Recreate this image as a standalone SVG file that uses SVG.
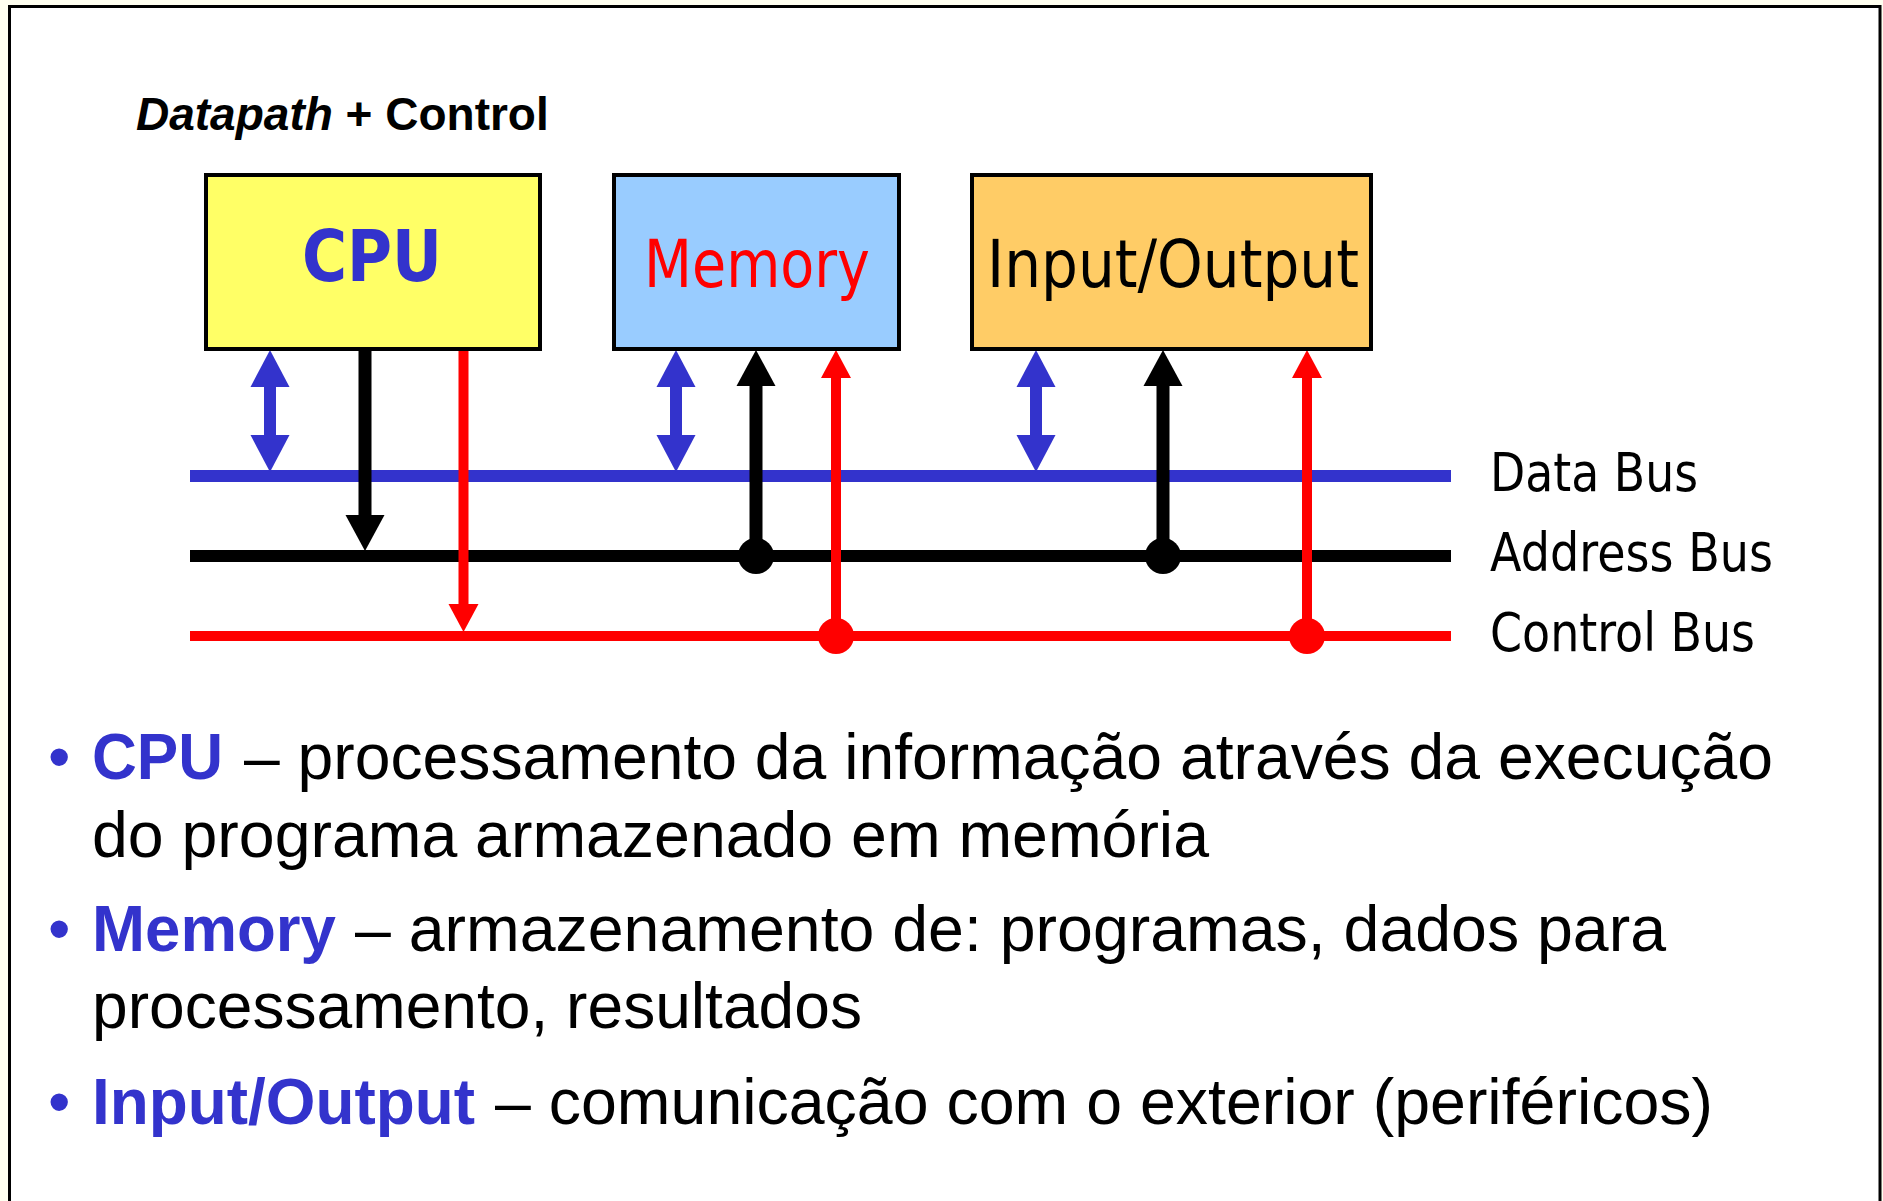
<svg xmlns="http://www.w3.org/2000/svg" width="1883" height="1201" viewBox="0 0 1883 1201">
  <style>
    .box { stroke: #000; stroke-width: 4; }
    .boxlabel { font-family: "DejaVu Sans", "Liberation Sans", sans-serif; }
    .buslabel { font-family: "DejaVu Sans", "Liberation Sans", sans-serif; font-size: 53px; fill: #000; }
    .body { font-family: "Liberation Sans", Arial, sans-serif; font-size: 64px; fill: #000; }
    .kw { font-weight: bold; fill: #3333CC; }
    .dot { fill: #3333CC; }
    .bus { fill: none; }
    .v { fill: none; }
  </style>
  <defs>
    <marker id="hBlue" markerUnits="userSpaceOnUse" viewBox="0 -20 40 40" markerWidth="40" markerHeight="40" refX="0" refY="0" orient="auto-start-reverse" overflow="visible">
      <path d="M0,-19.5 L37,0 L0,19.5 Z" fill="#3333CC"/>
    </marker>
    <marker id="hBlack" markerUnits="userSpaceOnUse" viewBox="0 -20 40 40" markerWidth="40" markerHeight="40" refX="0" refY="0" orient="auto-start-reverse" overflow="visible">
      <path d="M0,-19.5 L36,0 L0,19.5 Z" fill="#000"/>
    </marker>
    <marker id="hRed" markerUnits="userSpaceOnUse" viewBox="0 -20 40 40" markerWidth="40" markerHeight="40" refX="0" refY="0" orient="auto-start-reverse" overflow="visible">
      <path d="M0,-15 L28,0 L0,15 Z" fill="#FF0000"/>
    </marker>
  </defs>

  <rect x="0" y="0" width="1883" height="1201" fill="#FFFFF0"/>
  <rect x="9.5" y="6.5" width="1870.5" height="1210" fill="#FFFFFF" stroke="#000" stroke-width="3"/>

  <text x="136" y="130" font-family="Liberation Sans, Arial, sans-serif" font-size="46" font-weight="bold" fill="#000"><tspan font-style="italic">Datapath</tspan> + Control</text>

  <g id="connectors">
    <line class="bus" x1="190" y1="476" x2="1451" y2="476" stroke="#3333CC" stroke-width="12"/>
    <line class="bus" x1="190" y1="556" x2="1451" y2="556" stroke="#000" stroke-width="12"/>
    <line class="bus" x1="190" y1="636" x2="1451" y2="636" stroke="#FF0000" stroke-width="10"/>

    <line class="v" x1="270" y1="387" x2="270" y2="435" stroke="#3333CC" stroke-width="12" marker-start="url(#hBlue)" marker-end="url(#hBlue)"/>
    <line class="v" x1="676" y1="387" x2="676" y2="435" stroke="#3333CC" stroke-width="12" marker-start="url(#hBlue)" marker-end="url(#hBlue)"/>
    <line class="v" x1="1036" y1="387" x2="1036" y2="435" stroke="#3333CC" stroke-width="12" marker-start="url(#hBlue)" marker-end="url(#hBlue)"/>

    <line class="v" x1="365" y1="350" x2="365" y2="515" stroke="#000" stroke-width="13" marker-end="url(#hBlack)"/>
    <line class="v" x1="756" y1="556" x2="756" y2="386" stroke="#000" stroke-width="13" marker-end="url(#hBlack)"/>
    <circle cx="756" cy="556" r="18" fill="#000"/>
    <line class="v" x1="1163" y1="556" x2="1163" y2="386" stroke="#000" stroke-width="13" marker-end="url(#hBlack)"/>
    <circle cx="1163" cy="556" r="18" fill="#000"/>

    <line class="v" x1="463.5" y1="349" x2="463.5" y2="604" stroke="#FF0000" stroke-width="10" marker-end="url(#hRed)"/>
    <line class="v" x1="836" y1="636" x2="836" y2="378" stroke="#FF0000" stroke-width="10" marker-end="url(#hRed)"/>
    <circle cx="836" cy="636" r="18" fill="#FF0000"/>
    <line class="v" x1="1307" y1="636" x2="1307" y2="378" stroke="#FF0000" stroke-width="10" marker-end="url(#hRed)"/>
    <circle cx="1307" cy="636" r="18" fill="#FF0000"/>
  </g>

  <g id="cpu">
    <rect class="box" x="206" y="175" width="334" height="174" fill="#FFFF66"/>
    <text class="boxlabel" x="372" y="281" font-size="71" font-weight="bold" fill="#3333CC" text-anchor="middle" textLength="140" lengthAdjust="spacingAndGlyphs">CPU</text>
  </g>
  <g id="memory">
    <rect class="box" x="614" y="175" width="285" height="174" fill="#99CCFF"/>
    <text class="boxlabel" x="757" y="287" font-size="65" fill="#FF0000" text-anchor="middle" textLength="226" lengthAdjust="spacingAndGlyphs">Memory</text>
  </g>
  <g id="io">
    <rect class="box" x="972" y="175" width="399" height="174" fill="#FFCC66"/>
    <text class="boxlabel" x="1173" y="287" font-size="65" fill="#000" text-anchor="middle" textLength="372" lengthAdjust="spacingAndGlyphs">Input/Output</text>
  </g>

  <g id="bus-labels">
    <text class="buslabel" x="1490" y="491" textLength="208" lengthAdjust="spacingAndGlyphs">Data Bus</text>
    <text class="buslabel" x="1490" y="571" textLength="283" lengthAdjust="spacingAndGlyphs">Address Bus</text>
    <text class="buslabel" x="1490" y="651" textLength="265" lengthAdjust="spacingAndGlyphs">Control Bus</text>
  </g>

  <g id="bullets">
    <text class="body dot" x="48" y="779">•</text>
    <text class="body kw" x="92" y="779" textLength="131" lengthAdjust="spacingAndGlyphs">CPU</text>
    <text class="body" x="244" y="779" textLength="1529" lengthAdjust="spacingAndGlyphs">– processamento da informação através da execução</text>
    <text class="body" x="92" y="857" textLength="1117" lengthAdjust="spacingAndGlyphs">do programa armazenado em memória</text>

    <text class="body dot" x="48" y="951">•</text>
    <text class="body kw" x="92" y="951" textLength="244" lengthAdjust="spacingAndGlyphs">Memory</text>
    <text class="body" x="355" y="951" textLength="1311" lengthAdjust="spacingAndGlyphs">– armazenamento de: programas, dados para</text>
    <text class="body" x="92" y="1028" textLength="770" lengthAdjust="spacingAndGlyphs">processamento, resultados</text>

    <text class="body dot" x="48" y="1124">•</text>
    <text class="body kw" x="92" y="1124" textLength="383" lengthAdjust="spacingAndGlyphs">Input/Output</text>
    <text class="body" x="495" y="1124" textLength="1218" lengthAdjust="spacingAndGlyphs">– comunicação com o exterior (periféricos)</text>
  </g>
</svg>
